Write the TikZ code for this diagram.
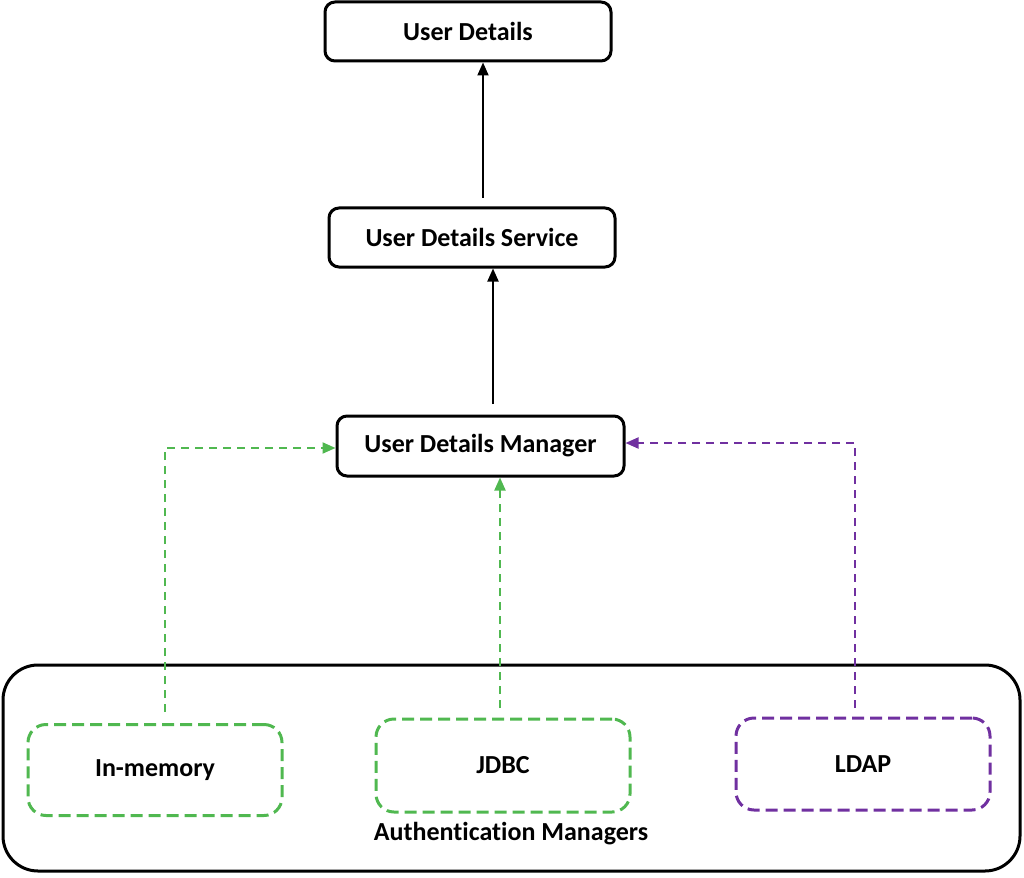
\documentclass[tikz,border=0pt]{standalone}
\usepackage{fontspec}
\setmainfont[Ligatures=NoCommon]{Carlito}
\usetikzlibrary{arrows.meta}
\definecolor{cgreen}{RGB}{80,184,80}
\definecolor{cpurple}{RGB}{112,48,160}
\tikzset{
  txt/.style={font=\fontsize{26}{30}\selectfont\bfseries},
  solidbox/.style={txt, draw=black, line width=3pt, rounded corners=10pt, minimum width=286pt, minimum height=59pt, inner sep=0pt},
  dashbox/.style={txt, line width=3pt, rounded corners=18pt, dash pattern=on 12pt off 6pt, minimum width=254pt, minimum height=91pt, inner sep=0pt},
  blackarrow/.style={line width=2pt, -{Triangle[length=13pt,width=11pt]}},
  dasharrow/.style={line width=2pt, dash pattern=on 8pt off 6pt, -{Triangle[length=13pt,width=11pt]}},
}
\begin{document}
\begin{tikzpicture}[x=1pt,y=-1pt]
\useasboundingbox (0,0) rectangle (1024,877);
\node[draw=black, line width=3pt, rounded corners=35pt, minimum width=1017pt, minimum height=206pt, inner sep=0pt] (outer) at (511.5,768) {};
\node[solidbox] (ud) at (468,31.5) {User Details};
\node[solidbox] (uds) at (472,237.5) {User Details Service};
\node[solidbox, minimum width=287pt, minimum height=60pt] (udm) at (480.5,446) {User Details Manager};
\node[dashbox, draw=cgreen] (mem) at (155,770) {In-memory};
\node[dashbox, draw=cgreen, minimum height=93pt] (jdbc) at (503,765.5) {JDBC};
\node[dashbox, draw=cpurple, minimum height=92pt] (ldap) at (863,764) {LDAP};
\node[txt] (am) at (511,834) {Authentication Managers};
\coordinate (c1) at (483,198);
\coordinate (c2) at (493,404);
\coordinate (m1) at (165,712);
\coordinate (m2) at (165,448);
\coordinate (j1) at (500,708);
\coordinate (l1) at (855,708);
\coordinate (l2) at (855,443);
\draw[blackarrow] (c1) -- (c1 |- ud.south);
\draw[blackarrow] (c2) -- (c2 |- uds.south);
\draw[dasharrow, cgreen] (m1) -- (m2) -- (m2 -| udm.west);
\draw[dasharrow, cgreen] (j1) -- (j1 |- udm.south);
\draw[dasharrow, cpurple] (l1) -- (l2) -- (l2 -| udm.east);
\end{tikzpicture}
\end{document}
